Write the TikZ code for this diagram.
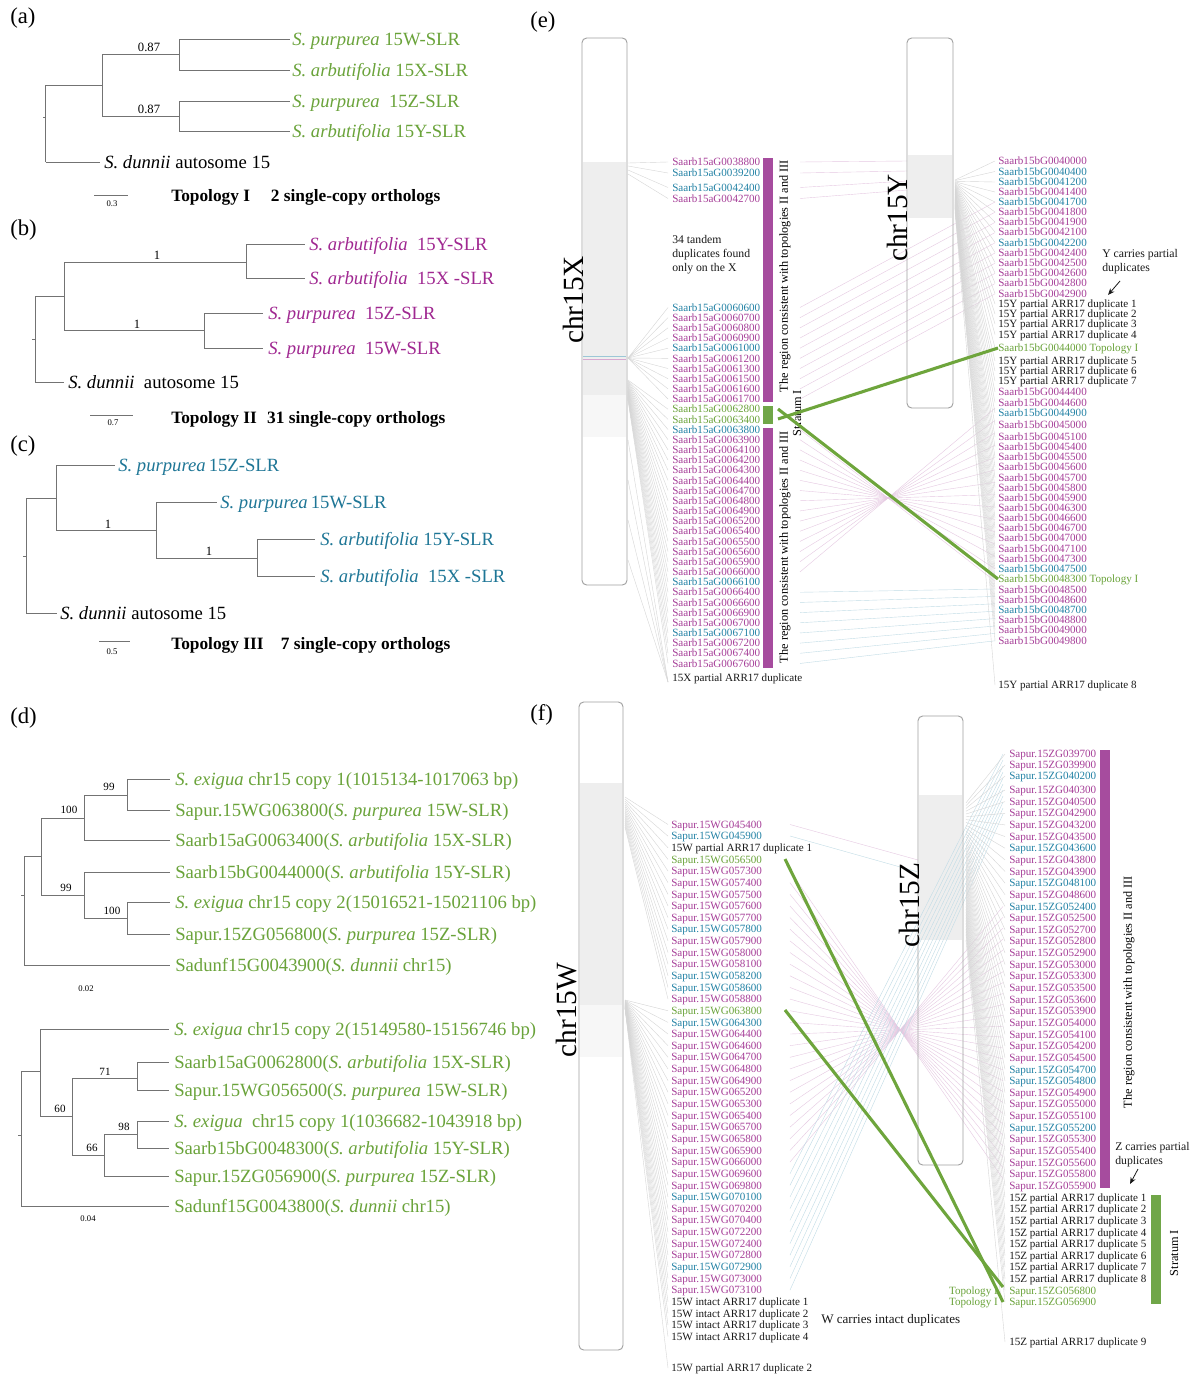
\documentclass[tikz,border=0pt]{standalone}
\usepackage{fontspec}
\setmainfont{Liberation Serif}
\usetikzlibrary{arrows.meta}
\definecolor{cP}{RGB}{166,62,152}
\definecolor{cB}{RGB}{35,130,165}
\definecolor{cG}{RGB}{106,163,58}
\definecolor{cK}{RGB}{25,25,25}
\definecolor{cTB}{RGB}{30,118,150}
\definecolor{cTP}{RGB}{160,40,145}
\definecolor{barP}{RGB}{166,76,158}
\definecolor{barG}{RGB}{112,166,72}
\definecolor{cGl}{RGB}{110,165,60}
\definecolor{treegray}{RGB}{115,115,115}
\definecolor{boxgray}{RGB}{160,160,160}
\begin{document}
\begin{tikzpicture}[x=0.75pt,y=-0.75pt,
 tl/.style={draw=treegray,line width=0.7pt},
 leaf/.style={anchor=west,inner sep=0pt,font=\fontsize{14}{16}\selectfont,text height=9.2pt,text depth=0pt},
 panel/.style={anchor=west,inner sep=0pt,font=\fontsize{17}{20}\selectfont},
 boot/.style={inner sep=0pt,font=\fontsize{9.5}{11}\selectfont},
 bsm/.style={inner sep=0pt,font=\fontsize{8.3}{10}\selectfont},
 scl/.style={inner sep=0pt,font=\fontsize{6.5}{8}\selectfont},
 ttl/.style={anchor=west,inner sep=0pt,font=\bfseries\fontsize{13}{15}\selectfont,text height=8.6pt,text depth=0pt},
 gene/.style={anchor=west,inner sep=0pt,font=\fontsize{8.3}{10}\selectfont,text height=5.5pt,text depth=0pt},
 chrlab/.style={rotate=90,inner sep=0pt,font=\fontsize{22}{24}\selectfont},
 rlab/.style={rotate=90,inner sep=0pt,font=\fontsize{9.2}{11}\selectfont},
 chrbox/.style={draw=boxgray,line width=0.7pt,rounded corners=3.5pt},
 fg/.style={draw=gray!32,line width=0.3pt},
 fp/.style={draw=cP!28,line width=0.3pt},
 fb/.style={draw=cB!28,line width=0.3pt},
 gl/.style={draw=cGl,line width=2.3pt},
 note/.style={anchor=west,inner sep=0pt,font=\fontsize{8.8}{10.5}\selectfont,align=left},
]
\useasboundingbox (0,0) rectangle (1200,1378);
\fill[white] (0,0) rectangle (1200,1378);

% ================= (a) =================
\node[panel] (pa) at (10,18) {(a)};
\draw[tl] (43,117)--(45.7,117);
\draw[tl] (45.7,85)--(45.7,162);
\draw[tl] (45.7,85)--(102,85);
\draw[tl] (102,54)--(102,116);
\draw[tl] (102,54)--(179,54) (179,39)--(179,70) (179,39)--(290,39) (179,70)--(290,70);
\draw[tl] (102,116)--(179,116) (179,101)--(179,131) (179,101)--(290,101) (179,131)--(290,131);
\draw[tl] (45.7,162)--(100,162);
\node[boot] (a87a) at (149,47) {0.87};
\node[boot] (a87b) at (149,109) {0.87};
\node[leaf,text=cG] (a1) at (292,39) {\textit{S. purpurea} 15W-SLR};
\node[leaf,text=cG] (a2) at (292,70) {\textit{S. arbutifolia} 15X-SLR};
\node[leaf,text=cG] (a3) at (292,101) {\textit{S. purpurea}\ \ 15Z-SLR};
\node[leaf,text=cG] (a4) at (292,131) {\textit{S. arbutifolia} 15Y-SLR};
\node[leaf] (a5) at (104,162) {\textit{S. dunnii} autosome 15};
\draw[tl] (94,195)--(128,195);
\node[scl] (asc) at (112,204) {0.3};
\node[ttl] (at) at (171,196) {Topology I\hspace{1.2em}2 single-copy orthologs};

% ================= (b) =================
\node[panel] (pb) at (10,230) {(b)};
\draw[tl] (32,339)--(35,339);
\draw[tl] (35,296)--(35,382) (35,296)--(64,296);
\draw[tl] (64,262)--(64,330);
\draw[tl] (64,262)--(246,262) (246,244)--(246,278) (246,244)--(305,244) (246,278)--(305,278);
\draw[tl] (64,330)--(204,330) (204,313)--(204,348) (204,313)--(263,313) (204,348)--(263,348);
\draw[tl] (35,382)--(64,382);
\node[boot] (b1a) at (157,255) {1};
\node[boot] (b1b) at (137,324) {1};
\node[leaf,text=cTP] (b1) at (309,244) {\textit{S. arbutifolia}\ \ 15Y-SLR};
\node[leaf,text=cTP] (b2) at (309,278) {\textit{S. arbutifolia}\ \ 15X -SLR};
\node[leaf,text=cTP] (b3) at (268,313) {\textit{S. purpurea}\ \ 15Z-SLR};
\node[leaf,text=cTP] (b4) at (268,348) {\textit{S. purpurea}\ \ 15W-SLR};
\node[leaf] (b5) at (68,382) {\textit{S. dunnii}\ \ autosome 15};
\draw[tl] (90,415)--(133,415);
\node[scl] (bsc) at (113,423) {0.7};
\node[ttl] (bt) at (171,418) {Topology II\hspace{0.6em}31 single-copy orthologs};

% ================= (c) =================
\node[panel] (pc) at (10,446) {(c)};
\draw[tl] (23,556)--(26,556);
\draw[tl] (26,498)--(26,613) (26,498)--(56,498);
\draw[tl] (56,465)--(56,530) (56,465)--(115,465);
\draw[tl] (56,530)--(156,530) (156,502)--(156,558) (156,502)--(217,502);
\draw[tl] (156,558)--(257,558) (257,539)--(257,576) (257,539)--(315,539) (257,576)--(315,576);
\draw[tl] (26,613)--(57,613);
\node[boot] (c1a) at (108,524) {1};
\node[boot] (c1b) at (209,551) {1};
\node[leaf,text=cTB] (c1) at (118,465) {\textit{S. purpurea}\,15Z-SLR};
\node[leaf,text=cTB] (c2) at (220,502) {\textit{S. purpurea}\,15W-SLR};
\node[leaf,text=cTB] (c3) at (320,539) {\textit{S. arbutifolia} 15Y-SLR};
\node[leaf,text=cTB] (c4) at (320,576) {\textit{S. arbutifolia}\ \ 15X -SLR};
\node[leaf] (c5) at (60,613) {\textit{S. dunnii} autosome 15};
\draw[tl] (99,641)--(130,641);
\node[scl] (csc) at (112,652) {0.5};
\node[ttl] (ct) at (171,644) {Topology III\hspace{1em}7 single-copy orthologs};

% ================= (d) =================
\node[panel] (pd) at (10,718) {(d)};
\draw[tl] (21,895)--(24,895);
\draw[tl] (24,856)--(24,965) (24,856)--(41,856);
\draw[tl] (41,818)--(41,895);
\draw[tl] (41,818)--(84,818) (84,795)--(84,840);
\draw[tl] (84,795)--(127,795) (127,779)--(127,810) (127,779)--(170,779) (127,810)--(170,810);
\draw[tl] (84,840)--(170,840);
\draw[tl] (41,895)--(84,895) (84,872)--(84,918) (84,872)--(170,872);
\draw[tl] (84,918)--(127,918) (127,902)--(127,934) (127,902)--(170,902) (127,934)--(170,934);
\draw[tl] (24,965)--(170,965);
\node[bsm] (d99a) at (109,787) {99};
\node[bsm] (d100a) at (69,810) {100};
\node[bsm] (d99b) at (66,888) {99};
\node[bsm] (d100b) at (112,911) {100};
\node[leaf,text=cG] (d1) at (175,779) {\textit{S. exigua} chr15 copy 1(1015134-1017063 bp)};
\node[leaf,text=cG] (d2) at (175,810) {Sapur.15WG063800(\textit{S. purpurea} 15W-SLR)};
\node[leaf,text=cG] (d3) at (175,840) {Saarb15aG0063400(\textit{S. arbutifolia} 15X-SLR)};
\node[leaf,text=cG] (d4) at (175,872) {Saarb15bG0044000(\textit{S. arbutifolia} 15Y-SLR)};
\node[leaf,text=cG] (d5) at (175,902) {\textit{S. exigua} chr15 copy 2(15016521-15021106 bp)};
\node[leaf,text=cG] (d6) at (175,934) {Sapur.15ZG056800(\textit{S. purpurea} 15Z-SLR)};
\node[leaf,text=cG] (d7) at (175,965) {Sadunf15G0043900(\textit{S. dunnii} chr15)};
\node[scl] (dsc1) at (86,989) {0.02};
% tree 2
\draw[tl] (18,1135)--(21,1135);
\draw[tl] (21,1071)--(21,1206) (21,1071)--(40,1071);
\draw[tl] (40,1029)--(40,1116) (40,1029)--(169,1029);
\draw[tl] (40,1116)--(72,1116) (72,1078)--(72,1155);
\draw[tl] (72,1078)--(137,1078) (137,1062)--(137,1090) (137,1062)--(169,1062) (137,1090)--(169,1090);
\draw[tl] (72,1155)--(104,1155) (104,1134)--(104,1176);
\draw[tl] (104,1134)--(137,1134) (137,1121)--(137,1148) (137,1121)--(169,1121) (137,1148)--(169,1148);
\draw[tl] (104,1176)--(169,1176);
\draw[tl] (21,1206)--(169,1206);
\node[bsm] (d71) at (105,1072) {71};
\node[bsm] (d60) at (60,1109) {60};
\node[bsm] (d98) at (124,1127) {98};
\node[bsm] (d66) at (92,1148) {66};
\node[leaf,text=cG] (e1) at (174,1029) {\textit{S. exigua} chr15 copy 2(15149580-15156746 bp)};
\node[leaf,text=cG] (e2) at (174,1062) {Saarb15aG0062800(\textit{S. arbutifolia} 15X-SLR)};
\node[leaf,text=cG] (e3) at (174,1090) {Sapur.15WG056500(\textit{S. purpurea} 15W-SLR)};
\node[leaf,text=cG] (e4) at (174,1121) {\textit{S. exigua}\ \ chr15 copy 1(1036682-1043918 bp)};
\node[leaf,text=cG] (e5) at (174,1148) {Saarb15bG0048300(\textit{S. arbutifolia} 15Y-SLR)};
\node[leaf,text=cG] (e6) at (174,1176) {Sapur.15ZG056900(\textit{S. purpurea} 15Z-SLR)};
\node[leaf,text=cG] (e7) at (174,1206) {Sadunf15G0043800(\textit{S. dunnii} chr15)};
\node[scl] (dsc2) at (88,1219) {0.04};

% ================= (e) =================
\node[panel] (pe) at (530,22) {(e)};
% chromosome fills
\fill[white] (582,38) rectangle (627,585);
\fill[gray!13] (583,162) rectangle (626,395);
\fill[gray!6] (583,395) rectangle (626,437);
\draw[cB!45,line width=0.4pt] (583,356.5)--(626,356.5);
\draw[cP!45,line width=0.4pt] (583,359)--(626,359);
\fill[gray!13] (908,155) rectangle (952,218);
% faint lines X box -> X labels
\foreach \a/\b in {163/162,166/173,170/187.5,174/198.5} \draw[fg] (628,\a)--(668,\b);
\foreach \i in {0,...,9} \draw[fg] (628,358)--(668,{307.5+\i*10.17});
\foreach \i in {10,...,35} \draw[fg] (628,{372+\i*0.8})--(668,{307.5+\i*10.17});
\foreach \a in {440,480,520,560} \draw[fg] (628,\a)--(668,682);
% X labels -> Y
\foreach \a/\b in {162/161,173/171,187.5/181,198.5/190} \draw[fp] (800,\a)--(907,\b);
\foreach \i in {0,...,9} \draw[fp] (800,{307.5+\i*10.17})--(995,{202+\i*10.2});
\foreach \i in {12,...,26}{\pgfmathsetmacro\ya{307.5+\i*10.17}\pgfmathsetmacro\yb{498+(498-\ya)*1.216}\draw[fp] (800,\ya)--(995,\yb);}
\foreach \i in {28,...,35}{\pgfmathsetmacro\ya{307.5+\i*10.17}\pgfmathsetmacro\yb{589+(\i-28)*7.4}\draw[fb] (800,\ya)--(995,\yb);}
% Y box -> Y labels
\foreach \y in {161,171.5,182,192,202,212,222,232,242.5,252.5,262.5,273,283,293.5,304,314,324,334.5,348,361,371,381,392,402.5,413,425,437,447,457,467,477.5,487.5,497.5,508,518,528,538,548.5,559,569,579,589.5,600,610,620,630,640.5,685}
  {\pgfmathsetmacro\yo{180+(\y-161)*0.06}\draw[fg] (955,\yo)--(995,\y);}
% chromosome outlines
\draw[chrbox] (582,38) rectangle (627,585);
\draw[chrbox] (907,38) rectangle (953,408);
\node[chrlab] (chrX) at (573,300) {chr15X};
\node[chrlab] (chrY) at (897,218) {chr15Y};
% X gene list
\foreach \n/\c/\y [count=\i] in {0038800/P/162,0039200/B/173,0042400/B/187.5,0042700/P/198.5}
  \node[gene,text=c\c] (xa\i) at (672,\y) {Saarb15aG\n};
\foreach \n/\c [count=\i from 0] in {0060600/B,0060700/P,0060800/P,0060900/P,0061000/B,0061200/P,0061300/P,0061500/P,0061600/P,0061700/P,0062800/G,0063400/G,0063800/B,0063900/P,0064100/P,0064200/P,0064300/P,0064400/P,0064700/P,0064800/P,0064900/P,0065200/P,0065400/P,0065500/P,0065600/P,0065900/P,0066000/P,0066100/B,0066400/P,0066600/P,0066900/P,0067000/P,0067100/B,0067200/P,0067400/P,0067600/P}
  \node[gene,text=c\c] (xb\i) at (672,{307.5+\i*10.17}) {Saarb15aG\n};
\node[gene,text=cK] (xdup) at (672,678) {15X partial ARR17 duplicate};
\node[note,text=cK] (xnote) at (672,255) {34 tandem\\duplicates found\\only on the X};
\fill[barP] (763,158) rectangle (773,402);
\fill[barG] (763,406) rectangle (773,424);
\fill[barP] (763,428) rectangle (773,668);
\node[rlab] (rx1) at (785,276) {The region consistent with topologies II and III};
\node[rlab] (rx2) at (785,547) {The region consistent with topologies II and III};
\node[rlab] (rxs) at (797,413) {Stratum I};
% Y gene list
\foreach \t/\c/\y [count=\i] in {Saarb15bG0040000/P/161,Saarb15bG0040400/B/171.5,Saarb15bG0041200/B/182,Saarb15bG0041400/P/192,Saarb15bG0041700/B/202,Saarb15bG0041800/P/212,Saarb15bG0041900/P/222,Saarb15bG0042100/P/232,Saarb15bG0042200/B/242.5,Saarb15bG0042400/P/252.5,Saarb15bG0042500/P/262.5,Saarb15bG0042600/P/273,Saarb15bG0042800/P/283,Saarb15bG0042900/P/293.5,15Y partial ARR17 duplicate 1/K/304,15Y partial ARR17 duplicate 2/K/314,15Y partial ARR17 duplicate 3/K/324,15Y partial ARR17 duplicate 4/K/334.5,Saarb15bG0044000 Topology I/G/348,15Y partial ARR17 duplicate 5/K/361,15Y partial ARR17 duplicate 6/K/371,15Y partial ARR17 duplicate 7/K/381,Saarb15bG0044400/P/392,Saarb15bG0044600/P/402.5,Saarb15bG0044900/B/413,Saarb15bG0045000/P/425,Saarb15bG0045100/P/437,Saarb15bG0045400/P/447,Saarb15bG0045500/P/457,Saarb15bG0045600/P/467,Saarb15bG0045700/P/477.5,Saarb15bG0045800/P/487.5,Saarb15bG0045900/P/497.5,Saarb15bG0046300/P/508,Saarb15bG0046600/P/518,Saarb15bG0046700/P/528,Saarb15bG0047000/P/538,Saarb15bG0047100/P/548.5,Saarb15bG0047300/P/559,Saarb15bG0047500/B/569,Saarb15bG0048300 Topology I/G/579,Saarb15bG0048500/P/589.5,Saarb15bG0048600/P/600,Saarb15bG0048700/B/610,Saarb15bG0048800/P/620,Saarb15bG0049000/P/630,Saarb15bG0049800/P/640.5,15Y partial ARR17 duplicate 8/K/685}
  \node[gene,text=c\c] (yg\i) at (998,\y) {\t};
\node[note,text=cK] (ynote) at (1102,261.5) {Y carries partial\\duplicates};
\coordinate (yarr) at (1120,281);
\draw[cK,line width=0.6pt,-{Stealth[length=5pt,width=4pt]}] (yarr)--(1108,295);
% green lines (e)
\coordinate (xg1) at (778,409);
\coordinate (xg2) at (778,419);
\draw[gl] (xg2)--(yg19.west);
\draw[gl] (xg1)--(yg41.west);

% ================= (f) =================
\node[panel] (pf) at (530,715) {(f)};
\fill[white] (579,702) rectangle (623,1350);
\fill[gray!13] (580,783) rectangle (622,1005);
\fill[gray!6] (580,1005) rectangle (622,1057);
\fill[gray!13] (919,795) rectangle (962,940);
% W box -> W labels
\foreach \i in {1,...,16} \draw[fg] (625,{795+\i*2})--(668,{812.86+\i*11.64});
\foreach \i in {17,...,45} \draw[fg] (625,{1000+(\i-17)*0.3})--(668,{812.86+\i*11.64});
\draw[fg] (625,1008)--(668,1368);
% W labels -> Z labels (crossing)
\foreach \i in {5,...,30}{\pgfmathsetmacro\ya{812.86+\i*11.64}\pgfmathsetmacro\yb{1030+(1030-\ya)*0.936}\draw[fp] (790,\ya)--(1003,\yb);}
\foreach \i in {31,...,41}{\pgfmathsetmacro\ya{812.86+\i*11.64}\pgfmathsetmacro\yb{754+(\i-31)*6}\draw[fb] (790,\ya)--(1003,\yb);}
\draw[fp] (790,824.5)--(918,860);
\draw[fb] (790,836)--(918,872);
% Z box -> Z labels
\foreach \i in {1,...,48}{\pgfmathsetmacro\yz{\i<4 ? 754+(\i-1)*11 : 790+(\i-4)*11.64}\pgfmathsetmacro\yo{800+\i*2.8}\draw[fg] (966,\yo)--(1005,\yz);}
\draw[fg] (966,940)--(1005,1342);
\draw[chrbox] (579,702) rectangle (623,1350);
\draw[chrbox] (918,716) rectangle (963,1165);
\node[chrlab] (chrW) at (567,1010) {chr15W};
\node[chrlab] (chrZ) at (909,905) {chr15Z};
% W gene list
\foreach \t/\c [count=\i] in {Sapur.15WG045400/P,Sapur.15WG045900/B,15W partial ARR17 duplicate 1/K,Sapur.15WG056500/G,Sapur.15WG057300/P,Sapur.15WG057400/P,Sapur.15WG057500/P,Sapur.15WG057600/P,Sapur.15WG057700/P,Sapur.15WG057800/B,Sapur.15WG057900/P,Sapur.15WG058000/P,Sapur.15WG058100/P,Sapur.15WG058200/B,Sapur.15WG058600/B,Sapur.15WG058800/P,Sapur.15WG063800/G,Sapur.15WG064300/B,Sapur.15WG064400/P,Sapur.15WG064600/P,Sapur.15WG064700/P,Sapur.15WG064800/P,Sapur.15WG064900/P,Sapur.15WG065200/P,Sapur.15WG065300/P,Sapur.15WG065400/P,Sapur.15WG065700/P,Sapur.15WG065800/P,Sapur.15WG065900/P,Sapur.15WG066000/P,Sapur.15WG069600/P,Sapur.15WG069800/P,Sapur.15WG070100/B,Sapur.15WG070200/P,Sapur.15WG070400/P,Sapur.15WG072200/P,Sapur.15WG072400/P,Sapur.15WG072800/P,Sapur.15WG072900/B,Sapur.15WG073000/P,Sapur.15WG073100/P,15W intact ARR17 duplicate 1/K,15W intact ARR17 duplicate 2/K,15W intact ARR17 duplicate 3/K,15W intact ARR17 duplicate 4/K}
  \node[gene,text=c\c] (wg\i) at (671,{812.86+\i*11.64}) {\t};
\node[gene,text=cK] (wdup2) at (671,1368) {15W partial ARR17 duplicate 2};
\node[note,text=cK,font=\fontsize{9.8}{11}\selectfont] (wnote) at (821,1320) {W carries intact duplicates};
% Z gene list
\foreach \t/\c [count=\i] in {039700/P,039900/P,040200/B,040300/P,040500/P,042900/P,043200/P,043500/P,043600/B,043800/P,043900/P,048100/B,048600/P,052400/B,052500/P,052700/P,052800/P,052900/P,053000/P,053300/P,053500/P,053600/P,053900/P,054000/P,054100/P,054200/P,054500/P,054700/B,054800/B,054900/P,055000/P,055100/P,055200/B,055300/P,055400/P,055600/P,055800/P,055900/P}
  {\pgfmathsetmacro\yz{\i<4 ? 754+(\i-1)*11 : 790+(\i-4)*11.64}
   \node[gene,text=c\c] (zg\i) at (1009,\yz) {Sapur.15ZG\t};}
\foreach \k [count=\i from 39] in {1,...,8}
  \node[gene,text=cK] (zg\i) at (1009,{790+(\i-4)*11.64}) {15Z partial ARR17 duplicate \k};
\node[gene,text=cG] (zg47) at (1009,1290.5) {Sapur.15ZG056800};
\node[gene,text=cG] (zg48) at (1009,1302.2) {Sapur.15ZG056900};
\node[gene,text=cG,anchor=east] (zt1) at (998,1290.5) {Topology I};
\node[gene,text=cG,anchor=east] (zt2) at (998,1302.2) {Topology I};
\node[gene,text=cK] (zdup9) at (1009,1342) {15Z partial ARR17 duplicate 9};
\fill[barP] (1100,750) rectangle (1110,1188);
\fill[barG] (1151,1195) rectangle (1161,1304);
\node[rlab] (rz1) at (1129,992) {The region consistent with topologies II and III};
\node[rlab] (rzs) at (1174,1253) {Stratum I};
\node[note,text=cK] (znote) at (1115,1155) {Z carries partial\\duplicates};
\coordinate (zarr) at (1138,1169);
\draw[cK,line width=0.6pt,-{Stealth[length=5pt,width=4pt]}] (zarr)--(1130,1184);
% green lines (f)
\coordinate (wgs1) at (785,859);
\coordinate (wgs2) at (785,1010);
\draw[gl] (wgs1)--(1003,1302);
\draw[gl] (wgs2)--(1003,1287);
\end{tikzpicture}
\end{document}
